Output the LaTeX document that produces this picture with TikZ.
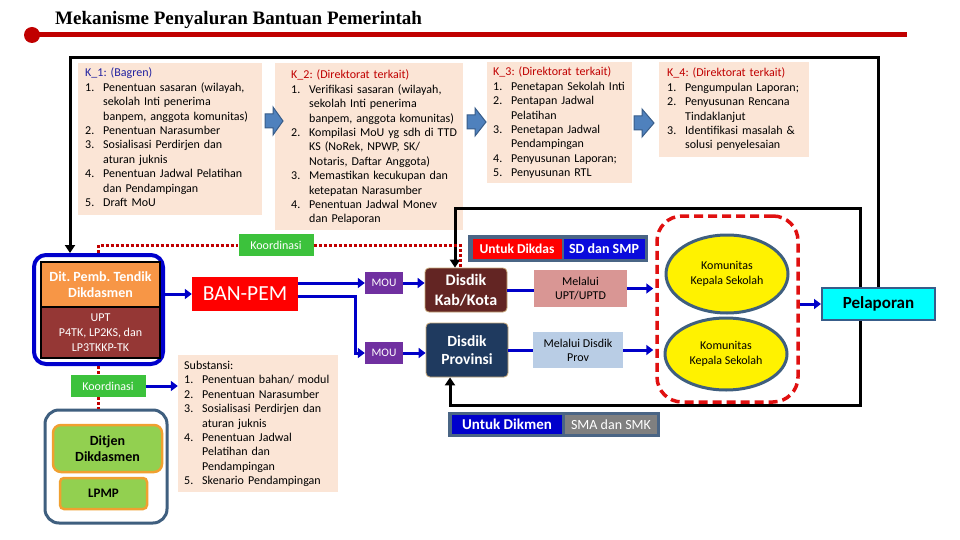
\documentclass[tikz,border=0pt]{standalone}
\usepackage{fontspec}
\setmainfont{Carlito}
\newfontfamily\titlefont{Liberation Serif}
\usetikzlibrary{arrows.meta,calc,shapes.geometric}
\frenchspacing
\definecolor{peach}{HTML}{FBE5D6}
\definecolor{dred}{HTML}{C00000}
\definecolor{kblue}{HTML}{2020A0}
\definecolor{conncol}{HTML}{0000C8}
\definecolor{arrowfill}{HTML}{4F81BD}
\definecolor{arrowdraw}{HTML}{385D8A}
\definecolor{kgreen}{HTML}{3CC23C}
\definecolor{ditorange}{HTML}{F79646}
\definecolor{uptbrown}{HTML}{953735}
\definecolor{banred}{HTML}{FF0000}
\definecolor{moupurple}{HTML}{7030A0}
\definecolor{kabbrown}{HTML}{632523}
\definecolor{provnavy}{HTML}{1F3A5F}
\definecolor{muptpink}{HTML}{D99694}
\definecolor{mprovblue}{HTML}{B9CDE5}
\definecolor{slate}{HTML}{3F5F7F}
\definecolor{legframe}{HTML}{4A6585}
\definecolor{cyanbox}{HTML}{00FFFF}
\definecolor{ditjengreen}{HTML}{92D050}
\definecolor{ditjenorange}{HTML}{F0A030}
\definecolor{smagray}{HTML}{808080}
\definecolor{dikmenblue}{HTML}{0000CC}
\definecolor{sdblue}{HTML}{0A0ADC}
\definecolor{dashred}{HTML}{E01010}
\definecolor{disbord}{HTML}{C8A878}
\newcommand{\li}[2]{\par\noindent\hangindent=18pt\hangafter=1\makebox[18pt][l]{#1.}#2\par}
\newcommand{\blockarrow}[3]{% x0, x1, yc
  \filldraw[fill=arrowfill,draw=arrowdraw,line width=1pt]
   (#1,#3-7) -- (#1+8,#3-7) -- (#1+8,#3-14) -- (#2,#3) -- (#1+8,#3+14) -- (#1+8,#3+7) -- (#1,#3+7) -- cycle;}
\begin{document}
\begin{tikzpicture}[x=1pt,y=-1pt,
  kbox/.style={fill=peach, inner sep=0pt},
  ktext/.style={inner sep=0pt, align=left, anchor=north west, text width=200pt, font=\fontsize{12}{14.4}\selectfont},
  sbox/.style={inner sep=0pt, align=center},
  conn/.style={draw=conncol, line width=3pt},
  conna/.style={conn, -{Triangle[length=7pt,width=10pt]}},
  blackline/.style={draw=black, line width=3pt},
  blacka/.style={blackline, -{Triangle[length=8pt,width=10pt]}},
  reddot/.style={draw=dred, line width=3pt, dash pattern=on 3pt off 2pt},
  koord/.style={sbox, fill=kgreen, text=white, font=\fontsize{12}{14}\selectfont, minimum width=75pt, minimum height=22pt},
  moubox/.style={sbox, fill=moupurple, text=white, font=\fontsize{11.5}{13}\selectfont, minimum width=38pt, minimum height=22pt},
  komell/.style={ellipse, draw=slate, line width=3pt, fill=yellow, inner sep=0pt, align=center, font=\fontsize{12}{15}\selectfont}
]
\useasboundingbox (0,0) rectangle (960,540);
\fill[white] (0,0) rectangle (960,540);

% title
\node[anchor=base west, inner sep=0pt, font=\titlefont\bfseries\fontsize{19}{22}\selectfont] (title) at (55,25) {Mekanisme Penyaluran Bantuan Pemerintah};
\coordinate (rl0) at (32,35);
\coordinate (rl1) at (907,35);
\draw[dred, line width=5pt] (rl0) -- (rl1);
\fill[dred] (rl0) circle (8pt);

% K boxes
\node[kbox, minimum width=184pt, minimum height=152pt] (k1) at (170,139) {};
\node[kbox, minimum width=188pt, minimum height=167pt] (k2) at (369,146.5) {};
\node[kbox, minimum width=145pt, minimum height=121pt] (k3) at (559.5,122.5) {};
\node[kbox, minimum width=150pt, minimum height=95pt] (k4) at (734,109.5) {};

\node[ktext] (k1t) at (85,68) {\noindent{\color{kblue}K\_1: (Bagren)}
\li{1}{Penentuan sasaran (wilayah,\newline sekolah Inti penerima\newline banpem, anggota komunitas)}
\li{2}{Penentuan Narasumber}
\li{3}{Sosialisasi Perdirjen dan\newline aturan juknis}
\li{4}{Penentuan Jadwal Pelatihan\newline dan Pendampingan}
\li{5}{Draft MoU}};

\node[ktext] (k2t) at (291,70) {\noindent{\color{dred}K\_2: (Direktorat terkait)}
\li{1}{Verifikasi sasaran (wilayah,\newline sekolah Inti penerima\newline banpem, anggota komunitas)}
\li{2}{Kompilasi MoU yg sdh di TTD\newline KS (NoRek, NPWP, SK/\newline Notaris, Daftar Anggota)}
\li{3}{Memastikan kecukupan dan\newline ketepatan Narasumber}
\li{4}{Penentuan Jadwal Monev\newline dan Pelaporan}};

\node[ktext] (k3t) at (493,67) {\noindent{\color{dred}K\_3: (Direktorat terkait)}
\li{1}{Penetapan Sekolah Inti}
\li{2}{Pentapan Jadwal\newline Pelatihan}
\li{3}{Penetapan Jadwal\newline Pendampingan}
\li{4}{Penyusunan Laporan;}
\li{5}{Penyusunan RTL}};

\node[ktext] (k4t) at (667,68) {\noindent{\color{dred}K\_4: (Direktorat terkait)}
\li{1}{Pengumpulan Laporan;}
\li{2}{Penyusunan Rencana\newline Tindaklanjut}
\li{3}{Identifikasi masalah \&\newline solusi penyelesaian}};

% block arrows between K boxes
\blockarrow{265}{283}{121}
\blockarrow{467}{486}{122}
\blockarrow{634}{654}{123}

% Dit frame
\node[draw=dikmenblue, line width=4pt, rounded corners=12pt, minimum width=129pt, minimum height=109pt, inner sep=0pt] (ditframe) at (98.5,309.5) {};
\node[sbox, fill=ditorange, draw=black, line width=1.5pt, minimum width=119pt, minimum height=45pt, text=white, font=\bfseries\fontsize{14}{16}\selectfont] (dit) at (100.5,284.5) {Dit. Pemb. Tendik\\Dikdasmen};
\node[sbox, fill=uptbrown, draw=black, line width=1.5pt, minimum width=119pt, minimum height=51pt, text=white, font=\fontsize{12}{15}\selectfont] (upt) at (100.5,332.5) {UPT\\P4TK, LP2KS, dan\\LP3TKKP-TK};

% Koordinasi boxes
\node[koord] (koord1) at (276,245) {Koordinasi};
\node[koord] (koord2) at (108,386) {Koordinasi};

% Ditjen frame
\node[draw=slate, line width=3pt, rounded corners=14pt, minimum width=122pt, minimum height=113pt, inner sep=0pt, fill=white] (frame2) at (106,466.5) {};
\node[sbox, fill=ditjengreen, draw=ditjenorange, line width=2.5pt, rounded corners=8pt, minimum width=109pt, minimum height=47pt, font=\bfseries\fontsize{14}{16}\selectfont] (ditjen) at (107.5,448.5) {Ditjen\\Dikdasmen};
\node[sbox, fill=ditjengreen, draw=ditjenorange, line width=2.5pt, rounded corners=4pt, minimum width=87pt, minimum height=31pt, font=\bfseries\fontsize{13}{15}\selectfont] (lpmp) at (103.5,493.5) {LPMP};

% BAN-PEM
\node[sbox, fill=banred, text=white, minimum width=106pt, minimum height=34pt, font=\fontsize{21.5}{24}\selectfont] (banpem) at (245,294) {BAN-PEM};

% Substansi
\node[kbox, minimum width=160pt, minimum height=137pt] (subst) at (258,423.5) {};
\node[ktext] (substt) at (184,361) {\noindent Substansi:
\li{1}{Penentuan bahan/ modul}
\li{2}{Penentuan Narasumber}
\li{3}{Sosialisasi Perdirjen dan\newline aturan juknis}
\li{4}{Penentuan Jadwal\newline Pelatihan dan\newline Pendampingan}
\li{5}{Skenario Pendampingan}};

% MOU, Disdik, Melalui
\node[moubox] (mou1) at (384,283) {MOU};
\node[moubox] (mou2) at (384,353) {MOU};
\node[sbox, fill=kabbrown, draw=disbord, line width=0.8pt, rounded corners=4pt, minimum width=82pt, minimum height=44pt, text=white, font=\bfseries\fontsize{16}{19.5}\selectfont] (kab) at (466,290) {Disdik\\Kab/Kota};
\node[sbox, fill=provnavy, draw=disbord, line width=0.8pt, rounded corners=4pt, minimum width=82pt, minimum height=54pt, text=white, font=\bfseries\fontsize{15.5}{18.5}\selectfont] (prov) at (467,350) {Disdik\\Provinsi};
\node[sbox, fill=muptpink, minimum width=93pt, minimum height=37pt, font=\fontsize{12}{14}\selectfont] (mupt) at (580.5,288.5) {Melalui\\UPT/UPTD};
\node[sbox, fill=mprovblue, minimum width=90pt, minimum height=36pt, font=\fontsize{12}{14}\selectfont] (mprov) at (578,350) {Melalui Disdik\\Prov};

% legends
\node[sbox, fill=legframe, minimum width=180pt, minimum height=27pt] (leg1) at (558,248.5) {};
\node[sbox, fill=banred, text=white, minimum width=89pt, minimum height=20pt, font=\bfseries\fontsize{13.5}{15}\selectfont] (dikdas) at (517,248.5) {Untuk Dikdas};
\node[sbox, fill=sdblue, text=white, minimum width=81pt, minimum height=20pt, font=\bfseries\fontsize{14}{15}\selectfont] (sdsmp) at (604,248.5) {SD dan SMP};
\node[sbox, fill=legframe, minimum width=212pt, minimum height=25pt] (leg2) at (554,424.5) {};
\node[sbox, fill=dikmenblue, text=white, minimum width=110pt, minimum height=19pt, font=\bfseries\fontsize{15}{16}\selectfont] (dikmen) at (507,424.5) {Untuk Dikmen};
\node[sbox, fill=smagray, text=white, minimum width=92pt, minimum height=19pt, font=\fontsize{14}{15}\selectfont] (smasmk) at (611,424.5) {SMA dan SMK};

% Komunitas
\node[draw=dashred, line width=3.5pt, dash pattern=on 9pt off 5pt, rounded corners=25pt, minimum width=141pt, minimum height=186pt, inner sep=0pt] (dbox) at (727.5,309) {};
\node[komell, minimum width=122pt, minimum height=78pt] (kom1) at (727,274) {Komunitas\\Kepala Sekolah};
\node[komell, minimum width=122pt, minimum height=72pt] (kom2) at (726,354) {Komunitas\\Kepala Sekolah};

% Pelaporan
\node[sbox, fill=cyanbox, draw=arrowdraw, line width=2pt, minimum width=113pt, minimum height=32pt, font=\bfseries\fontsize{17}{19}\selectfont] (pel) at (878.5,304) {Pelaporan};

% black feedback lines
\coordinate (f1) at (878.5,58);
\coordinate (f2) at (70,58);
\draw[blacka] (pel.north) -- (f1) -- (f2) -- (f2 |- ditframe.north);
\coordinate (p2) at (860,208);
\draw[blacka] (pel.north -| p2) -- (p2) -| ([xshift=-11pt]kab.north);
\coordinate (p3) at (860,405);
\draw[blacka] (pel.south -| p3) -- (p3) -| ([xshift=-17pt]prov.south);

% red dotted coordination
\draw[reddot] (ditframe.north) |- (koord1.west);
\draw[reddot] (koord1.east) -| ([xshift=-6pt]kab.north);
\draw[reddot] (ditframe.south) -- (ditframe.south |- koord2.north);
\draw[reddot] (ditframe.south |- koord2.south) -- (ditframe.south |- frame2.north);

% blue connectors
\draw[conna] (ditframe.east |- banpem.west) -- (banpem.west);
\draw[conna] (koord2.east) -- (subst.west |- koord2.east);
\draw[conna] (banpem.east |- mou1.west) -- (mou1.west);
\coordinate (bend) at (355,0);
\draw[conna] ($(banpem.east)+(0,2)$) -| (bend |- mou2.west) -- (mou2.west);
\draw[conna] (mou1.east) -- (kab.west |- mou1.east);
\draw[conna] (mou2.east) -- (prov.west |- mou2.east);
\draw[conn] (kab.east) -- (mupt.west |- kab.east);
\draw[conn] (prov.east) -- (mprov.west |- prov.east);
\draw[conna] (mupt.east) -- ([xshift=-2pt]dbox.west |- mupt.east);
\draw[conna] (mprov.east) -- ([xshift=-2pt]dbox.west |- mprov.east);
\draw[conna] (dbox.east |- pel.west) -- (pel.west);
\end{tikzpicture}
\end{document}
